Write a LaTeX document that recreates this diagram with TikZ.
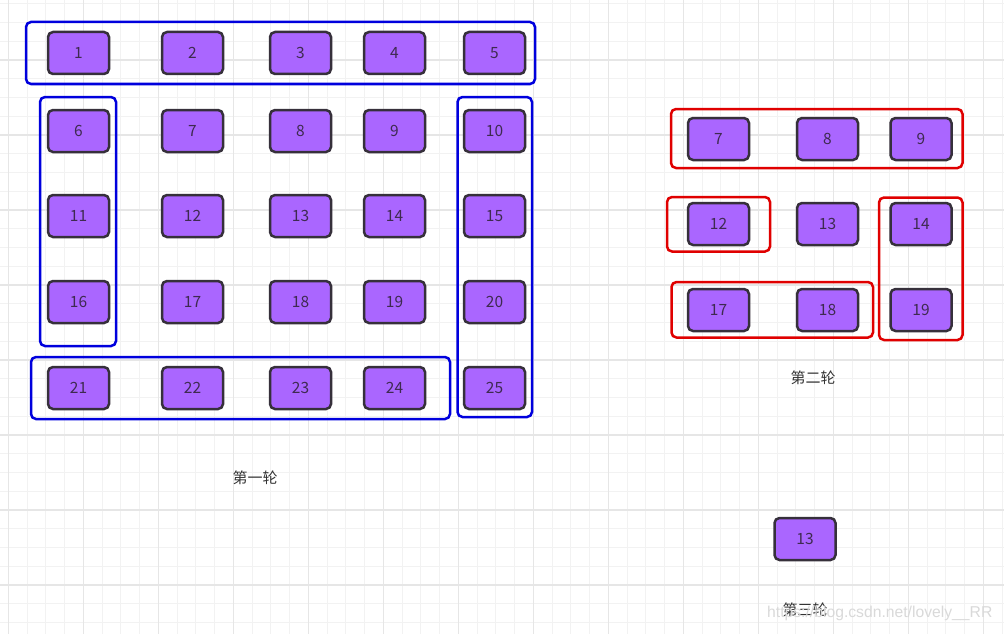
\documentclass[tikz,border=0pt]{standalone}
\usepackage{fontspec}
\newfontfamily\cjk{Noto Sans CJK SC}
\newfontfamily\wmfont{Liberation Sans}
\definecolor{gridminor}{HTML}{F2F2F2}
\definecolor{gridmajor}{HTML}{E6E6E6}
\definecolor{boxfill}{HTML}{AA66FF}
\definecolor{boxline}{HTML}{36303B}
\definecolor{boxtext}{HTML}{3E2A50}
\definecolor{frameblue}{HTML}{0000DD}
\definecolor{framered}{HTML}{E00000}
\definecolor{labeltext}{HTML}{333333}
\tikzset{
  cell/.style={draw=boxline, fill=boxfill, line width=2.5pt, rounded corners=5pt,
    minimum width=61pt, minimum height=42pt, inner sep=0pt,
    font=\cjk\fontsize{15.5}{15.5}\selectfont, text=boxtext},
  bluebox/.style={draw=frameblue, line width=2.5pt, rounded corners=5pt},
  redbox/.style={draw=framered, line width=2.5pt, rounded corners=5pt},
  roundlabel/.style={font=\cjk\fontsize{15}{15}\selectfont, text=labeltext, inner sep=0pt},
  gridminorline/.style={draw=gridminor, line width=1pt},
  gridmajorline/.style={draw=gridmajor, line width=1.3pt},
}
\begin{document}
\begin{tikzpicture}[x=1pt,y=-1pt]
\useasboundingbox (0,0) rectangle (1004,634);
\fill[white] (0,0) rectangle (1004,634);
% grid
\foreach \i in {0,...,53} \draw[gridminorline] ({8.33+18.75*\i},0) -- ({8.33+18.75*\i},634);
\foreach \j in {0,...,33} \draw[gridminorline] (0,{3.75+18.75*\j}) -- (1004,{3.75+18.75*\j});
\foreach \i in {0,...,13} \draw[gridmajorline] ({8.33+75*\i},0) -- ({8.33+75*\i},634);
\foreach \j in {0,...,7} \draw[gridmajorline] (0,{60+75*\j}) -- (1004,{60+75*\j});

% first round frames
\draw[bluebox] (26,22) rectangle (535,84);
\draw[bluebox] (40,97) rectangle (116,346);
\draw[bluebox] (457.5,97) rectangle (532,417);
\draw[bluebox] (31,357) rectangle (450,419);

% first round grid of cells
\foreach \n/\x/\y in {1/78.5/53, 2/192.5/53, 3/300.5/53, 4/394.5/53, 5/494.5/53,
  6/78.5/131, 7/192.5/131, 8/300.5/131, 9/394.5/131, 10/494.5/131,
  11/78.5/216, 12/192.5/216, 13/300.5/216, 14/394.5/216, 15/494.5/216,
  16/78.5/302, 17/192.5/302, 18/300.5/302, 19/394.5/302, 20/494.5/302,
  21/78.5/388, 22/192.5/388, 23/300.5/388, 24/394.5/388, 25/494.5/388}
  \node[cell] (n\n) at (\x,\y) {\n};

\node[roundlabel] (r1) at (255,478) {第一轮};

% second round frames
\draw[redbox] (671,109) rectangle (962.5,168);
\draw[redbox] (667,197) rectangle (770,251.5);
\draw[redbox] (671.5,282) rectangle (873,337.5);
\draw[redbox] (879,197.5) rectangle (962.5,340);

\foreach \n/\x/\y in {7/718.5/139, 8/827.5/139, 9/921/139,
  12/718.5/224, 13/827.5/224, 14/921/224,
  17/718.5/310, 18/827.5/310, 19/921/310}
  \node[cell] (m\n) at (\x,\y) {\n};

\node[roundlabel] (r2) at (813,378) {第二轮};

% third round
\node[cell] (t13) at (805,539) {13};
\node[roundlabel] (r3) at (805,610) {第三轮};

% watermark
\node[font=\wmfont\fontsize{15.7}{15.7}\selectfont, text=black!15, inner sep=0pt, anchor=west] (wm) at (767,613) {https://blog.csdn.net/lovely\_\_RR};
\end{tikzpicture}
\end{document}
